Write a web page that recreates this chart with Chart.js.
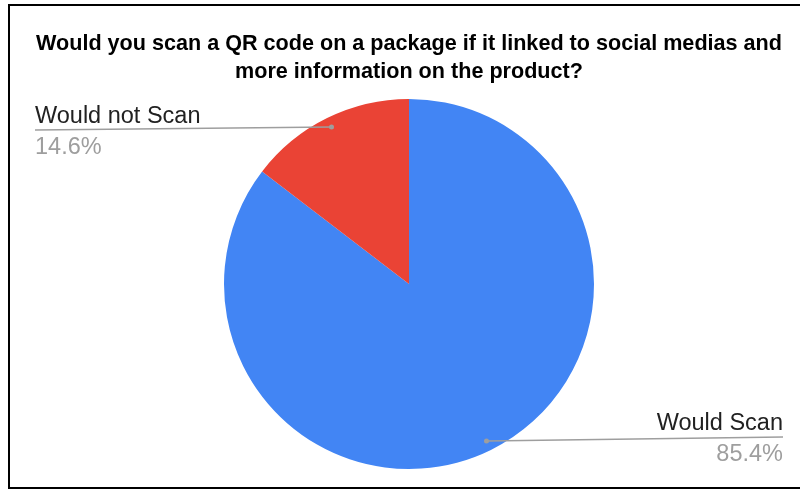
<!DOCTYPE html>
<html>
<head>
<meta charset="utf-8">
<script src="https://cdn.jsdelivr.net/npm/chart.js@4"></script>
<style>
    html, body { margin: 0; padding: 0; background: #fff; }
    #wrap { position: relative; width: 800px; height: 494px; }
    #frame {
        position: absolute; left: 8px; top: 4px; width: 800px; height: 481px;
        border-left: 2px solid #000; border-top: 2px solid #000; border-bottom: 2px solid #000;
        pointer-events: none;
    }
</style>
</head>
<body>
<div id="wrap">
    <canvas id="qrChart" width="800" height="494"></canvas>
    <div id="frame"></div>
</div>
<script>
const titleLines = [
    'Would you scan a QR code on a package if it linked to social medias and',
    'more information on the product?'
]
const answers = ['Would Scan', 'Would not Scan']
const shares = [85.4, 14.6]
const sliceColors = ['#4285F4', '#EA4335']

const FONT = '"Liberation Sans", Arial, sans-serif'

// leader lines + labels, Sheets style
const sliceLabels = {
    id: 'sliceLabels',
    afterDatasetsDraw(chart) {
        const ctx = chart.ctx
        const meta = chart.getDatasetMeta(0)
        const data = chart.data.datasets[0].data
        const total = data.reduce((a, b) => a + b, 0)

        meta.data.forEach((arc, i) => {
            const mid = (arc.startAngle + arc.endAngle) / 2
            const r = arc.outerRadius * 0.946
            const dx = arc.x + Math.cos(mid) * r
            const dy = arc.y + Math.sin(mid) * r
            const left = Math.cos(mid) < 0
            const ex = left ? 35 : 783
            const ey = left ? dy + 3 : dy - 4
            const pct = (data[i] / total * 100).toFixed(1) + '%'

            ctx.save()
            ctx.strokeStyle = '#9e9e9e'
            ctx.lineWidth = 1.5
            ctx.beginPath()
            ctx.moveTo(dx, dy)
            ctx.lineTo(ex, ey)
            ctx.stroke()
            ctx.fillStyle = '#9e9e9e'
            ctx.beginPath()
            ctx.arc(dx, dy, 2.5, 0, Math.PI * 2)
            ctx.fill()

            ctx.font = '23.5px ' + FONT
            ctx.textAlign = left ? 'left' : 'right'
            ctx.textBaseline = 'alphabetic'
            ctx.fillStyle = '#212121'
            ctx.fillText(chart.data.labels[i], ex, ey - 7)
            ctx.fillStyle = '#9e9e9e'
            ctx.fillText(pct, ex, ey + 24)
            ctx.restore()
        })
    }
}

new Chart(document.getElementById('qrChart'), {
    type: 'pie',
    data: {
        labels: answers,
        datasets: [{
            data: shares,
            backgroundColor: sliceColors,
            borderWidth: 0
        }]
    },
    options: {
        responsive: false,
        animation: false,
        layout: { padding: { top: 0, bottom: 25, left: 18, right: 0 } },
        plugins: {
            legend: { display: false },
            tooltip: { enabled: false },
            title: {
                display: true,
                text: titleLines,
                color: '#000',
                font: { family: FONT, size: 21.6, weight: 'bold', lineHeight: 28 / 21.6 },
                padding: { top: 30, bottom: 13 }
            }
        }
    },
    plugins: [sliceLabels]
})
</script>
</body>
</html>
